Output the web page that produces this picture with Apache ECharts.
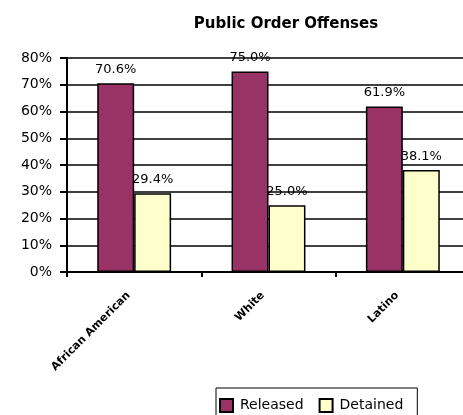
<!DOCTYPE html>
<html>
<head>
<meta charset="utf-8">
<script src="https://cdn.jsdelivr.net/npm/echarts@6/dist/echarts.min.js"></script>
<style>
  html, body { margin: 0; padding: 0; background: #fff; overflow: hidden; }
  #chart { width: 480px; height: 415px; }
</style>
</head>
<body>
<div id="chart"></div>
<script>
// 数据
var categories = ["African American", "White", "Latino"];
var released = [70.6, 75.0, 61.9];
var detained = [29.4, 25.0, 38.1];
var yTicks = [0, 10, 20, 30, 40, 50, 60, 70, 80];

(function () {
  // 图表比窗口宽一点, 右边的网格线一直画到边上
  var myChart = echarts.init(document.getElementById("chart"));
  var labelStyle = {
    show: true,
    position: "top",
    distance: 7,
    color: "#000",
    fontFamily: "DejaVu Sans",
    fontSize: 13,
    formatter: function (p) { return p.value.toFixed(1) + "%"; }
  };
  var option = {
    animation: false,
    title: {
      text: "Public Order Offenses",
      left: 281,
      top: 12,
      textAlign: "center",
      textStyle: { fontFamily: "DejaVu Sans", fontSize: 15, fontWeight: "bold", color: "#000" }
    },
    legend: {
      data: ["Released", "Detained"],
      icon: "rect",
      left: 216,
      top: 388,
      padding: [10, 14, 10, 3],
      itemGap: 15,
      itemWidth: 13,
      itemHeight: 13,
      borderColor: "#000",
      borderWidth: 1,
      textStyle: { fontFamily: "DejaVu Sans", fontSize: 14, color: "#000", padding: [0, 0, 0, 2] }
    },
    grid: { left: 67, top: 58, width: 403, height: 214, containLabel: false },
    xAxis: {
      type: "category",
      data: categories,
      axisLine: { lineStyle: { color: "#000", width: 2 } },
      axisTick: { show: true, length: 5, lineStyle: { color: "#000", width: 2 } },
      axisLabel: {
        rotate: 45,
        interval: 0,
        margin: 16,
        padding: [0, 8, 0, 0],
        color: "#000",
        fontFamily: "DejaVu Sans",
        fontSize: 11,
        fontWeight: "bold"
      }
    },
    yAxis: {
      type: "value",
      min: 0,
      max: 80,
      interval: 10,
      axisLine: { show: true, lineStyle: { color: "#000", width: 2 } },
      axisTick: { show: true, length: 7, lineStyle: { color: "#000", width: 2 } },
      splitLine: { lineStyle: { color: "#000", width: 1.5 } },
      axisLabel: {
        margin: 15,
        color: "#000",
        fontFamily: "DejaVu Sans",
        fontSize: 14,
        formatter: function (v) { return yTicks.indexOf(v) >= 0 ? v + "%" : ""; }
      }
    },
    series: [
      {
        name: "Released",
        type: "bar",
        data: released,
        barGap: "0%",
        barCategoryGap: "45%",
        itemStyle: { color: "#993366", borderColor: "#000", borderWidth: 1.5 },
        label: labelStyle
      },
      {
        name: "Detained",
        type: "bar",
        data: detained,
        itemStyle: { color: "#FFFFCC", borderColor: "#000", borderWidth: 1.5 },
        label: labelStyle
      }
    ]
  };
  myChart.setOption(option);
})();
</script>
</body>
</html>
